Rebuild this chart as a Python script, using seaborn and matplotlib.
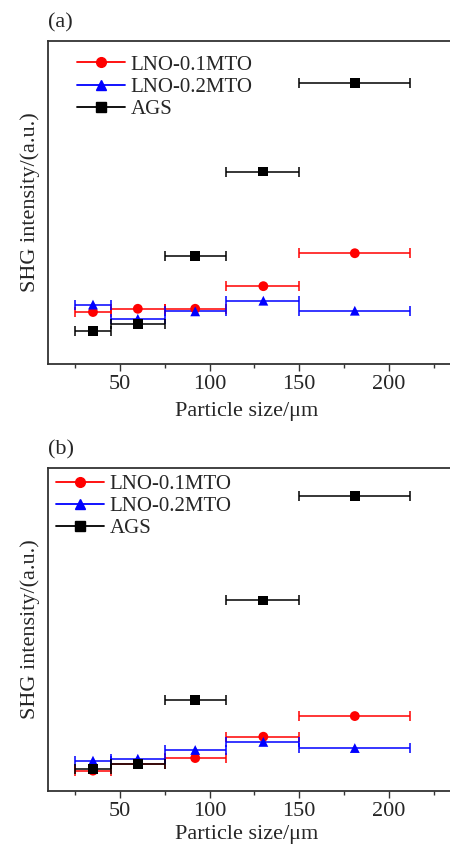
import matplotlib
matplotlib.use("Agg")
import matplotlib.pyplot as plt
import numpy as np
import pandas as pd
import seaborn as sns
from matplotlib.lines import Line2D
from matplotlib.ticker import MultipleLocator

# particle size bins (um)
size_mid = [35, 60, 92, 130, 181]
size_lo = [25, 45, 75, 109, 150]
size_hi = [45, 75, 109, 150, 212]

series = ["LNO-0.1MTO", "LNO-0.2MTO", "AGS"]

# SHG intensity, arbitrary units
shg_a = {
    "LNO-0.1MTO": [16.1, 17.1, 17.1, 24.1, 34.3],
    "LNO-0.2MTO": [18.4, 14.0, 16.3, 19.6, 16.5],
    "AGS": [10.1, 12.4, 33.4, 59.6, 86.9],
}
shg_b = {
    "LNO-0.1MTO": [6.3, 8.4, 10.2, 16.8, 23.2],
    "LNO-0.2MTO": [9.4, 10.0, 12.7, 15.2, 13.3],
    "AGS": [6.7, 8.4, 28.2, 59.0, 91.3],
}

colors = {"LNO-0.1MTO": "#ff0000", "LNO-0.2MTO": "#0000ff", "AGS": "#000000"}
markers = {"LNO-0.1MTO": "o", "LNO-0.2MTO": "^", "AGS": "s"}

sns.set_theme(style="ticks")
plt.rcParams["font.family"] = ["Liberation Serif", "DejaVu Serif"]


def to_frame(vals):
    rows = []
    for name in series:
        for m, lo, hi, v in zip(size_mid, size_lo, size_hi, vals[name]):
            rows.append({"size": m, "lo": lo, "hi": hi, "shg": v, "sample": name})
    return pd.DataFrame(rows)


def draw_panel(ax, vals, tag, legend_xy, xlabel_y):
    df = to_frame(vals)
    # horizontal bars give the size range of each sieve fraction
    for name in series:
        d = df[df["sample"] == name]
        xerr = np.vstack([d["size"] - d["lo"], d["hi"] - d["size"]])
        ax.errorbar(d["size"], d["shg"], xerr=xerr, fmt="none",
                    ecolor=colors[name], elinewidth=1.1, capsize=3.5,
                    capthick=1.1, zorder=2)
    sns.scatterplot(data=df, x="size", y="shg", hue="sample", style="sample",
                    palette=colors, markers=markers, s=50, edgecolor="none",
                    legend=False, ax=ax, zorder=3)

    ax.set_xlim(10, 245)
    ax.set_ylim(0, 100)
    ax.xaxis.set_major_locator(MultipleLocator(50))
    ax.xaxis.set_minor_locator(MultipleLocator(25))
    ax.set_yticks([])
    ax.tick_params(axis="x", which="major", length=5, width=1, direction="out",
                   labelsize=16, pad=3, color="#333333")
    ax.tick_params(axis="x", which="minor", length=3, width=1, direction="out",
                   color="#333333")
    for sp in ax.spines.values():
        sp.set_color("#333333")
        sp.set_linewidth(1.3)
    ax.set_xlabel("Particle size/μm", fontsize=16)
    ax.xaxis.set_label_coords(0.47, xlabel_y)
    ax.set_ylabel("SHG intensity/(a.u.)", fontsize=16, labelpad=6)
    ax.text(0.0, 1.055, tag, transform=ax.transAxes, fontsize=16,
            ha="left", va="center")

    handles = [Line2D([], [], color=colors[n], marker=markers[n], lw=1.3,
                      markersize=7) for n in series]
    ax.legend(handles, series, loc="upper left", bbox_to_anchor=legend_xy,
              frameon=False, fontsize=15, handlelength=2.3, handletextpad=0.3,
              labelspacing=0.12, borderaxespad=0.2)


fig = plt.figure(figsize=(4.5, 8.44), dpi=100)
# x scale: 1 um = 1.7933 px, axes cut off by the right edge like the source
ax_a = fig.add_axes([0.107, 0.5687, 0.9365, 0.3827])
ax_b = fig.add_axes([0.107, 0.0628, 0.9365, 0.3827])

draw_panel(ax_a, shg_a, "(a)", (0.038, 0.995), -0.118)
draw_panel(ax_b, shg_b, "(b)", (-0.012, 1.018), -0.106)

fig.savefig("out.png", dpi=100)
